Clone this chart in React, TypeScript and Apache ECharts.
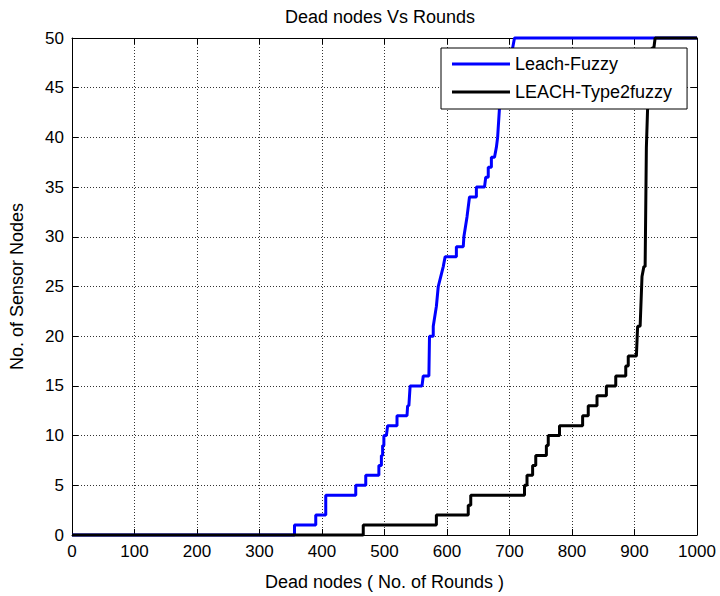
import React, { useEffect, useRef } from "react";
import * as echarts from "echarts";

const titleText = "Dead nodes Vs Rounds";
const xAxisName = "Dead nodes ( No. of Rounds )";
const yAxisName = "No. of Sensor Nodes";
const seriesNames = ["Leach-Fuzzy", "LEACH-Type2fuzzy"];

const fuzzyX = [0, 356, 356, 390, 390, 406, 406, 454, 454, 470, 470, 491, 491, 495, 495, 497, 497, 499, 499, 503, 505, 520, 520, 536, 537, 539, 541, 560, 562, 571, 572, 578, 578, 583, 586, 590, 594, 597, 615, 615, 626, 627, 632, 636, 647, 647, 660, 662, 666, 666, 671, 671, 676, 679, 681, 682, 684, 687, 690, 693, 697, 701, 705, 708, 1000];
const fuzzyY = [0, 0, 1, 1, 2, 2, 4, 4, 5, 5, 6, 6, 7, 7, 8, 8, 9, 9, 10, 10, 11, 11, 12, 12, 13, 13, 15, 15, 16, 16, 20, 20, 21, 23, 25, 26, 27, 28, 28, 29, 29, 30, 32, 34, 34, 35, 35, 36, 36, 37, 37, 38, 38, 39, 40, 41, 43, 44, 45, 46, 47, 48, 49, 50, 50];

const type2X = [0, 466, 466, 583, 583, 634, 634, 638, 638, 724, 724, 728, 728, 737, 737, 742, 742, 759, 759, 762, 762, 780, 780, 817, 817, 826, 826, 840, 840, 855, 855, 870, 870, 886, 886, 890, 890, 903, 905, 909, 912, 915, 917, 919, 921, 928, 931, 933, 1000];
const type2Y = [0, 0, 1, 1, 2, 2, 3, 3, 4, 4, 5, 5, 6, 6, 7, 7, 8, 8, 9, 9, 10, 10, 11, 11, 12, 12, 13, 13, 14, 14, 15, 15, 16, 16, 17, 17, 18, 18, 21, 21, 26, 27, 27, 39, 43, 49, 49, 50, 50];

const xMin = 0, xMax = 1000, xStep = 100;
const yMin = 0, yMax = 50, yStep = 5;

const FONT = "'Liberation Sans', Arial, Helvetica, sans-serif";

export default function App() {
  const ref = useRef<HTMLDivElement>(null);
  useEffect(() => {
    if (!ref.current) return;
    const chart = echarts.init(ref.current, undefined, { renderer: "svg" });
    const zip = (xs: number[], ys: number[]) => xs.map((x, i) => [x, ys[i]]);
    const splitLine = { show: true, lineStyle: { color: "#333", type: [1, 2] as any, width: 1 } };
    const axisLine = { show: true, onZero: false, lineStyle: { color: "#000", width: 1 } };
    const tick = { show: true, inside: true, length: 6, lineStyle: { color: "#000" } };
    const plain = (v: number) => String(v);
    chart.setOption({
      animation: false,
      backgroundColor: "#fff",
      textStyle: { fontFamily: FONT },
      grid: { left: 68, right: 23, top: 38, bottom: 55, containLabel: false },
      graphic: [
        {
          type: "text",
          x: 380,
          y: 17,
          style: {
            text: titleText,
            fill: "#000",
            font: `18px ${FONT}`,
            textAlign: "center",
            textVerticalAlign: "middle",
          },
        },
      ],
      legend: {
        orient: "vertical",
        left: 441,
        top: 48,
        padding: [7, 15, 8, 11],
        itemGap: 10,
        itemWidth: 58,
        itemHeight: 3,
        icon: "rect",
        borderColor: "#000",
        borderWidth: 1,
        backgroundColor: "#fff",
        borderRadius: 0,
        textStyle: { fontFamily: FONT, fontSize: 18, color: "#000" },
        data: seriesNames,
      },
      xAxis: [
        {
          type: "value",
          min: xMin,
          max: xMax,
          interval: xStep,
          position: "bottom",
          name: xAxisName,
          nameLocation: "middle",
          nameGap: 38,
          nameTextStyle: { fontFamily: FONT, fontSize: 18, color: "#000" },
          axisLine,
          axisTick: tick,
          axisLabel: { color: "#000", fontSize: 17, fontFamily: FONT, margin: 8, showMinLabel: true, showMaxLabel: true, formatter: plain },
          splitLine,
        },
        {
          type: "value",
          min: xMin,
          max: xMax,
          interval: xStep,
          position: "top",
          axisLine,
          axisTick: tick,
          axisLabel: { show: false },
          splitLine: { show: false },
        },
      ],
      yAxis: [
        {
          type: "value",
          min: yMin,
          max: yMax,
          interval: yStep,
          position: "left",
          name: yAxisName,
          nameLocation: "middle",
          nameGap: 46,
          nameTextStyle: { fontFamily: FONT, fontSize: 18, color: "#000" },
          axisLine,
          axisTick: tick,
          axisLabel: { color: "#000", fontSize: 17, fontFamily: FONT, margin: 8, showMinLabel: true, showMaxLabel: true, formatter: plain },
          splitLine,
        },
        {
          type: "value",
          min: yMin,
          max: yMax,
          interval: yStep,
          position: "right",
          axisLine,
          axisTick: tick,
          axisLabel: { show: false },
          splitLine: { show: false },
        },
      ],
      series: [
        {
          name: seriesNames[0],
          type: "line",
          data: zip(fuzzyX, fuzzyY),
          symbol: "none",
          color: "#0000ff",
          lineStyle: { color: "#0000ff", width: 3 },
          clip: false,
          z: 3,
        },
        {
          name: seriesNames[1],
          type: "line",
          data: zip(type2X, type2Y),
          symbol: "none",
          color: "#000000",
          lineStyle: { color: "#000000", width: 3 },
          clip: false,
          z: 3,
        },
      ],
    });
    return () => chart.dispose();
  }, []);
  return (
    <div
      ref={ref}
      style={{ position: "absolute", left: 0, top: 0, width: 720, height: 596, background: "#fff" }}
    />
  );
}
